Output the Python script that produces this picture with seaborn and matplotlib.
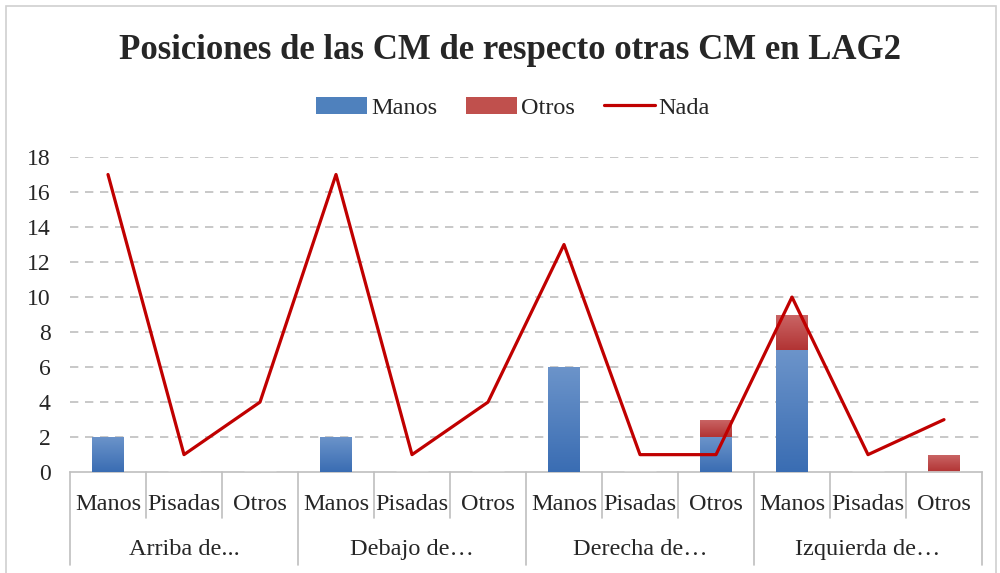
import numpy as np
import pandas as pd
import matplotlib
matplotlib.use("Agg")
import matplotlib.pyplot as plt
import matplotlib.colors as mcolors
from matplotlib.patches import Patch, Rectangle
from matplotlib.lines import Line2D
import seaborn as sns

# ---- data ----
groups = ["Arriba de...", "Debajo de…", "Derecha de…", "Izquierda de…"]
subcats = ["Manos", "Pisadas", "Otros"]
manos = [2, 0, 0, 2, 0, 0, 6, 0, 2, 7, 0, 0]
otros = [0, 0, 0, 0, 0, 0, 0, 0, 1, 2, 0, 1]
nada = [17, 1, 4, 17, 1, 4, 13, 1, 1, 10, 1, 3]
y_ticks = [0, 2, 4, 6, 8, 10, 12, 14, 16, 18]

n = len(manos)
df = pd.DataFrame({
    "pos": np.arange(n),
    "manos": manos,
    "otros": otros,
    "total": np.array(manos) + np.array(otros),
    "nada": nada,
})

sns.set_theme(style="white")
plt.rcParams["font.family"] = ["Liberation Serif", "DejaVu Serif"]
text_color = "#262626"
grid_color = "#bfbfbf"

fig = plt.figure(figsize=(10, 5.73), dpi=100)
ax = fig.add_axes([0.070, 0.176, 0.912, 0.550])

order = list(range(n))
bar_w = 0.41
# stacked bars: total (Otros on top) first, then Manos over it
sns.barplot(data=df, x="pos", y="total", order=order, color="#c0504d",
            width=bar_w, ax=ax, saturation=1, zorder=2)
n_tot = len(ax.patches)
sns.barplot(data=df, x="pos", y="manos", order=order, color="#4f81bd",
            width=bar_w, ax=ax, saturation=1, zorder=3)

# vertical gradient fill for each bar segment
def gradient_fill(patch, top_col, bot_col, z):
    x0, y0 = patch.get_x(), patch.get_y()
    w, h = patch.get_width(), patch.get_height()
    if h <= 0:
        return
    cmap = mcolors.LinearSegmentedColormap.from_list("g", [bot_col, top_col])
    grad = np.linspace(0, 1, 64).reshape(-1, 1)
    im = ax.imshow(grad, extent=[x0, x0 + w, y0, y0 + h], origin="lower",
                   cmap=cmap, aspect="auto", zorder=z)
    clip = Rectangle((x0, y0), w, h, transform=ax.transData)
    im.set_clip_path(clip)
    patch.set_visible(False)

patches = list(ax.patches)
for p in patches[:n_tot]:
    # red segment spans from the Manos top up to the total
    idx = int(round(p.get_x() + p.get_width() / 2))
    seg = Rectangle((p.get_x(), manos[idx]), p.get_width(), otros[idx])
    gradient_fill(seg, "#ca6666", "#b23434", 2)
    p.set_visible(False)
for p in patches[n_tot:]:
    gradient_fill(p, "#6c94ca", "#3a6db3", 3)

# line series
sns.lineplot(data=df, x="pos", y="nada", color="#c00000", linewidth=2.3,
             ax=ax, zorder=4, sort=False)

ax.set_xlim(-0.5, n - 0.5)
ax.set_ylim(0, 18)
ax.set_yticks(y_ticks)
ax.set_yticklabels([str(v) for v in y_ticks], fontsize=17, color=text_color)
ax.tick_params(axis="y", length=0, pad=14)
ax.set_xticks([])
ax.set_xlabel("")
ax.set_ylabel("")
for s in ["top", "right", "left"]:
    ax.spines[s].set_visible(False)
ax.spines["bottom"].set_color(grid_color)
ax.spines["bottom"].set_linewidth(1.2)
for v in y_ticks[1:]:
    ax.axhline(v, color=grid_color, linestyle=(0, (5, 4)), linewidth=1.2, zorder=1)

# hierarchical category axis
trans = ax.get_xaxis_transform()
for i in range(n):
    ax.text(i, -0.102, subcats[i % 3], transform=trans, ha="center",
            va="center", fontsize=17.5, color=text_color)
for g, name in enumerate(groups):
    ax.text(g * 3 + 1, -0.245, name, transform=trans, ha="center",
            va="center", fontsize=17.5, color=text_color)
for k in range(n + 1):
    x = k - 0.5
    y_end = -0.295 if k % 3 == 0 else -0.146
    ax.add_line(Line2D([x, x], [0, y_end], transform=trans, color=grid_color,
                       linewidth=1.2, clip_on=False))

# title and legend
fig.text(0.51, 0.912, "Posiciones de las CM de respecto otras CM en LAG2",
         ha="center", va="center", fontsize=25, fontweight="bold",
         color=text_color)
handles = [Patch(facecolor="#4f81bd", edgecolor="none"),
           Patch(facecolor="#c0504d", edgecolor="none"),
           Line2D([0], [0], color="#c00000", linewidth=2.3)]
fig.legend(handles, ["Manos", "Otros", "Nada"], loc="center",
           bbox_to_anchor=(0.513, 0.812), ncol=3, frameon=False,
           fontsize=17.5, handlelength=2.1, handletextpad=0.15,
           columnspacing=1.2, labelcolor=text_color)

# outer chart frame
fig.add_artist(Rectangle((0.006, -0.01), 0.99, 1.0, transform=fig.transFigure,
                         fill=False, edgecolor="#d0d0d0", linewidth=1.2))

fig.savefig("out.png", dpi=100)
